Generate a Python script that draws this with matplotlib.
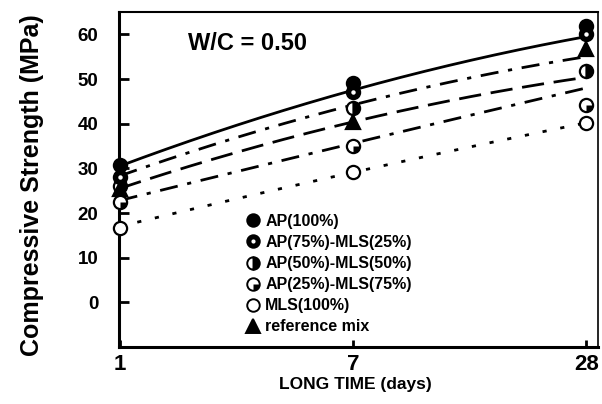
import numpy as np
import matplotlib
matplotlib.use("Agg")
import matplotlib.pyplot as plt
from matplotlib.lines import Line2D
from matplotlib.path import Path
from matplotlib.legend_handler import HandlerTuple

plt.rcParams['font.family'] = ['Liberation Sans', 'DejaVu Sans']
plt.rcParams['font.weight'] = 'bold'

# ---- data ----
days = ['1', '7', '28']
ap100 = [30.8, 49.0, 61.8]
ap75_mls25 = [28.0, 47.0, 60.0]
ap50_mls50 = [26.0, 43.6, 51.8]
ap25_mls75 = [22.5, 35.0, 44.2]
mls100 = [16.7, 29.2, 40.2]
reference_mix = [25.4, 40.4, 56.7]

# fitted trend curves (values at 1, 7, 28 days)
fit_solid = [30.5, 47.5, 59.5]
fit_dashdot_upper = [28.3, 44.2, 55.0]
fit_dash = [25.5, 40.4, 50.4]
fit_dashdot_lower = [22.8, 35.6, 48.0]
fit_dotted = [17.0, 29.1, 40.2]

labels = ['AP(100%)', 'AP(75%)-MLS(25%)', 'AP(50%)-MLS(50%)',
          'AP(25%)-MLS(75%)', 'MLS(100%)', 'reference mix']

W, H = 602, 404
fig = plt.figure(figsize=(W / 100, H / 100), dpi=100)
ax = fig.add_axes([119 / W, 1 - 347 / H, (598 - 119) / W, (347 - 12) / H])

x = np.arange(len(days))
xs = np.linspace(x[0], x[-1], 200)

lw = 2.0
fits = [
    (fit_solid, None),
    (fit_dashdot_upper, (6.5, 3.5, 1.5, 3.5)),
    (fit_dash, (8.0, 3.5)),
    (fit_dashdot_lower, (6.5, 3.5, 1.5, 3.5)),
    (fit_dotted, (1.5, 5.0)),
]
for vals, dashes in fits:
    coef = np.polyfit(x, vals, 2)
    ys = np.polyval(coef, xs)
    if dashes is None:
        ax.plot(xs, ys, color='black', lw=lw, ls='-', zorder=2, clip_on=False)
    else:
        ax.plot(xs, ys, color='black', lw=lw, dashes=dashes, zorder=2,
                clip_on=False, dash_capstyle='butt')

ms = 9.5
quarter = Path.wedge(270, 360)

common = dict(ls='none', clip_on=False, zorder=4, markeredgecolor='black', markeredgewidth=1.6)
ax.plot(x, ap50_mls50, marker='o', ms=ms, fillstyle='right', markerfacecolor='black',
        markerfacecoloralt='white', **common)
ax.plot(x, reference_mix, marker='^', ms=ms + 1, markerfacecolor='black', **common)
ax.plot(x, ap75_mls25, marker='o', ms=ms, markerfacecolor='black', **common)
ax.plot(x, ap75_mls25, marker='o', ms=3.2, markerfacecolor='white', ls='none',
        markeredgewidth=0, clip_on=False, zorder=5)
ax.plot(x, ap100, marker='o', ms=ms, markerfacecolor='black', **common)
ax.plot(x, ap25_mls75, marker='o', ms=ms, markerfacecolor='white', **common)
ax.plot(x, ap25_mls75, marker=quarter, ms=ms, markerfacecolor='black', ls='none',
        markeredgewidth=0, clip_on=False, zorder=5)
ax.plot(x, mls100, marker='o', ms=ms, markerfacecolor='white', **common)

ax.set_xlim(-0.003, 2.05)
ax.set_ylim(-10, 65)
ax.set_xticks(x)
ax.set_xticklabels(days)
ax.set_yticks(np.arange(0, 61, 10))

ax.tick_params(axis='y', direction='in', length=7, width=2, labelsize=13.5, pad=15)
ax.tick_params(axis='x', direction='in', length=5, width=2, labelsize=16, pad=5)
for lab in ax.get_xticklabels() + ax.get_yticklabels():
    lab.set_fontweight('bold')

ax.spines['left'].set_linewidth(2.2)
ax.spines['bottom'].set_linewidth(2.2)
ax.spines['top'].set_linewidth(1.5)
ax.spines['right'].set_linewidth(1.2)

fig.text(32 / W, 1 - 185 / H, 'Compressive Strength (MPa)', rotation=90,
         ha='center', va='center', fontsize=18, fontweight='bold')
fig.text(355 / W, 1 - 385 / H, 'LONG TIME (days)', ha='center', va='center',
         fontsize=12.5, fontweight='bold')
fig.text(247 / W, 1 - 43 / H, 'W/C = 0.50', ha='center', va='center',
         fontsize=17, fontweight='bold')

# legend handles
mk = dict(ls='none', markeredgecolor='black', markeredgewidth=1.4)
lms = 9
h1 = Line2D([], [], marker='o', ms=lms, markerfacecolor='black', **mk)
h2 = (Line2D([], [], marker='o', ms=lms, markerfacecolor='black', **mk),
      Line2D([], [], marker='o', ms=3, markerfacecolor='white', ls='none', markeredgewidth=0))
h3 = Line2D([], [], marker='o', ms=lms, fillstyle='right', markerfacecolor='black',
            markerfacecoloralt='white', **mk)
h4 = (Line2D([], [], marker='o', ms=lms, markerfacecolor='white', **mk),
      Line2D([], [], marker=quarter, ms=lms, markerfacecolor='black', ls='none', markeredgewidth=0))
h5 = Line2D([], [], marker='o', ms=lms, markerfacecolor='white', **mk)
h6 = Line2D([], [], marker='^', ms=lms + 1, markerfacecolor='black', **mk)

leg = fig.legend([h1, h2, h3, h4, h5, h6], labels, loc='upper left',
                 bbox_to_anchor=(246 / W, 1 - 214 / H), frameon=False,
                 handlelength=0.9, handletextpad=0.3, labelspacing=0.38,
                 borderpad=0, borderaxespad=0,
                 handler_map={tuple: HandlerTuple(ndivide=1, pad=0)},
                 prop={'size': 11.5, 'weight': 'bold'})

fig.savefig('out.png', dpi=100)
